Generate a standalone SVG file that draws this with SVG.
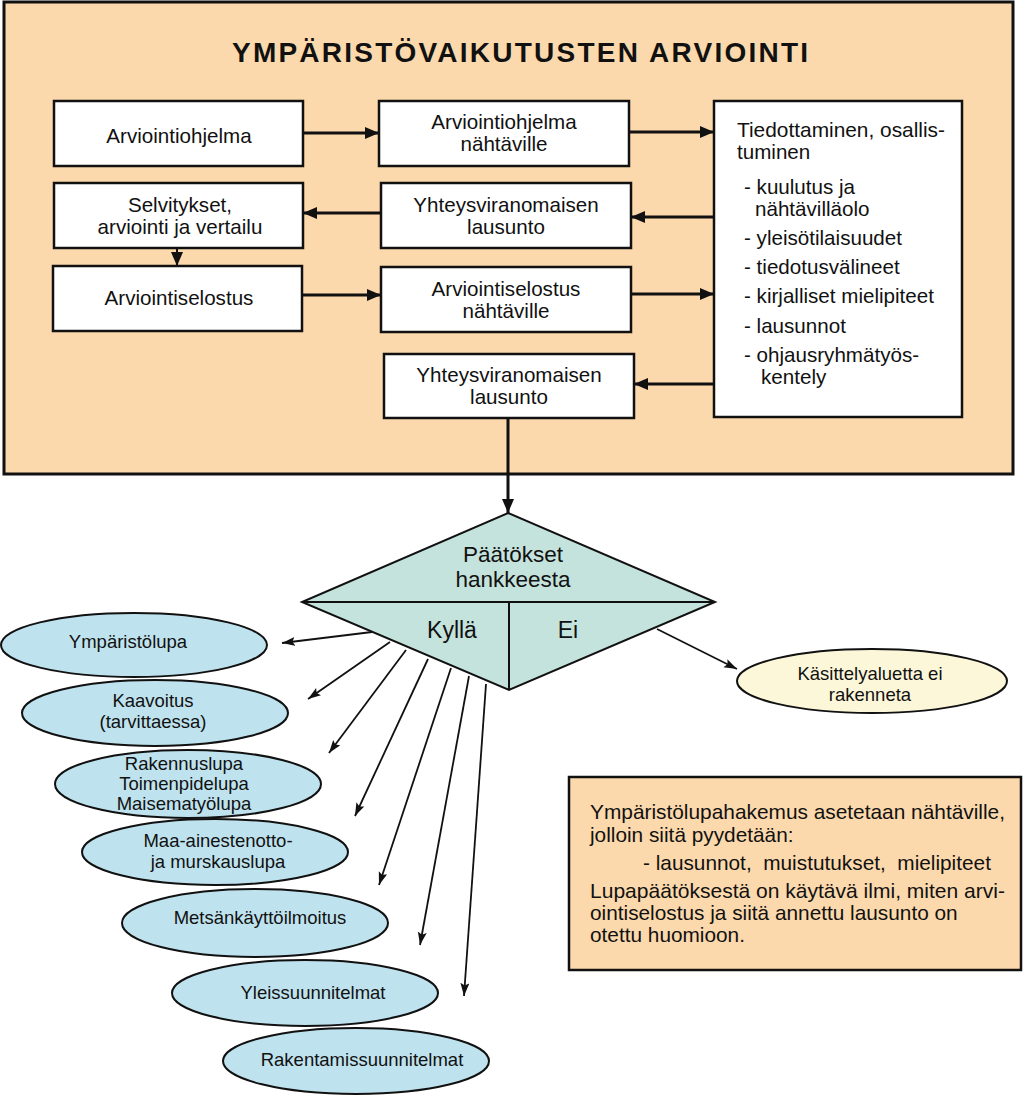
<svg xmlns="http://www.w3.org/2000/svg" width="1023" height="1096" viewBox="0 0 1023 1096">
<style>
text{font-family:"Liberation Sans",Arial,sans-serif;fill:#111}
.box{fill:#fff;stroke:#111;stroke-width:2.5}
.bt{font-size:20.6px;text-anchor:middle}
.rt{font-size:20.6px}
.nt{font-size:20.8px}
.et{font-size:18.5px;text-anchor:middle}
.ell{fill:#bfe3ee;stroke:#111;stroke-width:2}
.main{stroke:#111;stroke-width:3;fill:none;marker-end:url(#big)}
.thin{stroke:#111;stroke-width:1.8;fill:none;marker-end:url(#small)}
</style>
<defs>
<marker id="big" markerUnits="userSpaceOnUse" markerWidth="15" markerHeight="13" refX="14" refY="6" orient="auto" viewBox="0 0 15 13">
<path d="M0,0 L14,6 L0,12 z" fill="#111"/>
</marker>
<marker id="small" markerUnits="userSpaceOnUse" markerWidth="14" markerHeight="10" refX="13" refY="4.5" orient="auto" viewBox="0 0 14 10">
<path d="M0,0 L13,4.5 L0,9 L2.5,4.5 z" fill="#111"/>
</marker>
</defs>
<rect width="1023" height="1096" fill="#fff"/>
<g id="frame">
<rect x="4" y="2" width="1009" height="472" fill="#fcd9ac" stroke="#111" stroke-width="3"/>
<text x="520" y="62" font-size="28" font-weight="bold" text-anchor="middle" textLength="576" lengthAdjust="spacing">YMPÄRISTÖVAIKUTUSTEN ARVIOINTI</text>
</g>
<g id="n1"><rect class="box" x="54" y="101" width="249" height="65"/><text class="bt" x="179" y="143">Arviointiohjelma</text></g>
<g id="n2"><rect class="box" x="54" y="183" width="249" height="65"/><text class="bt" x="180" y="212">Selvitykset,</text><text class="bt" x="180" y="234">arviointi ja vertailu</text></g>
<g id="n3"><rect class="box" x="53" y="266" width="249" height="65"/><text class="bt" x="179" y="305">Arviointiselostus</text></g>
<g id="n4"><rect class="box" x="379" y="101" width="250" height="65"/><text class="bt" x="504" y="129">Arviointiohjelma</text><text class="bt" x="504" y="151">nähtäville</text></g>
<g id="n5"><rect class="box" x="381" y="183" width="250" height="65"/><text class="bt" x="506" y="212">Yhteysviranomaisen</text><text class="bt" x="506" y="234">lausunto</text></g>
<g id="n6"><rect class="box" x="381" y="267" width="250" height="65"/><text class="bt" x="506" y="296">Arviointiselostus</text><text class="bt" x="506" y="318">nähtäville</text></g>
<g id="n7"><rect class="box" x="384" y="354" width="250" height="64"/><text class="bt" x="509" y="382">Yhteysviranomaisen</text><text class="bt" x="509" y="404">lausunto</text></g>
<g id="n8"><rect class="box" x="714" y="101" width="248" height="316"/>
<text class="rt" x="737" y="137" textLength="208" lengthAdjust="spacingAndGlyphs">Tiedottaminen, osallis-</text>
<text class="rt" x="737" y="159">tuminen</text>
<text class="rt" x="744" y="194">- kuulutus ja</text>
<text class="rt" x="755" y="216">nähtävilläolo</text>
<text class="rt" x="744" y="245">- yleisötilaisuudet</text>
<text class="rt" x="744" y="274">- tiedotusvälineet</text>
<text class="rt" x="744" y="303">- kirjalliset mielipiteet</text>
<text class="rt" x="744" y="333">- lausunnot</text>
<text class="rt" x="744" y="362">- ohjausryhmätyös-</text>
<text class="rt" x="761" y="384">kentely</text>
</g>
<g id="decision">
<path d="M508,513 L715,602 L509,690 L302,602 z" fill="#c4e3dc" stroke="#111" stroke-width="2"/>
<line x1="302" y1="602" x2="715" y2="602" stroke="#111" stroke-width="2"/>
<line x1="509" y1="602" x2="509" y2="690" stroke="#111" stroke-width="2"/>
<text x="513" y="562" font-size="22.5" text-anchor="middle">Päätökset</text>
<text x="513" y="587" font-size="22.5" text-anchor="middle">hankkeesta</text>
<text x="452" y="638" font-size="23" text-anchor="middle">Kyllä</text>
<text x="568" y="638" font-size="23" text-anchor="middle">Ei</text>
</g>
<g id="e1"><ellipse class="ell" cx="134" cy="645" rx="133" ry="32"/><text class="et" x="128" y="648">Ympäristölupa</text></g>
<g id="e2"><ellipse class="ell" cx="155" cy="713" rx="133" ry="33"/><text class="et" x="153" y="707">Kaavoitus</text><text class="et" x="153" y="728">(tarvittaessa)</text></g>
<g id="e3"><ellipse class="ell" cx="188" cy="784" rx="133" ry="34"/><text class="et" x="184" y="770">Rakennuslupa</text><text class="et" x="184" y="790">Toimenpidelupa</text><text class="et" x="184" y="810">Maisematyölupa</text></g>
<g id="e4"><ellipse class="ell" cx="215" cy="852" rx="133" ry="33"/><text class="et" x="218" y="847">Maa-ainestenotto-</text><text class="et" x="218" y="868">ja murskauslupa</text></g>
<g id="e5"><ellipse class="ell" cx="255" cy="923" rx="133" ry="34"/><text class="et" x="260" y="924">Metsänkäyttöilmoitus</text></g>
<g id="e6"><ellipse class="ell" cx="305" cy="993" rx="133" ry="33"/><text class="et" x="313" y="999">Yleissuunnitelmat</text></g>
<g id="e7"><ellipse class="ell" cx="356" cy="1061" rx="133" ry="33"/><text class="et" x="362" y="1066">Rakentamissuunnitelmat</text></g>
<g id="e8"><ellipse cx="872" cy="681" rx="135" ry="32" fill="#fdf7da" stroke="#111" stroke-width="2"/><text class="et" x="870" y="680">Käsittelyaluetta ei</text><text class="et" x="870" y="701">rakenneta</text></g>
<g id="note">
<rect x="569" y="777" width="452" height="193" fill="#fcd9ac" stroke="#111" stroke-width="2.5"/>
<text class="nt" x="590" y="819" textLength="415" lengthAdjust="spacingAndGlyphs">Ympäristölupahakemus asetetaan nähtäville,</text>
<text class="nt" x="590" y="842">jolloin siitä pyydetään:</text>
<text class="nt" x="643" y="870" xml:space="preserve">- lausunnot,  muistutukset,  mielipiteet</text>
<text class="nt" x="590" y="898" textLength="415" lengthAdjust="spacingAndGlyphs">Lupapäätöksestä on käytävä ilmi, miten arvi-</text>
<text class="nt" x="590" y="920">ointiselostus ja siitä annettu lausunto on</text>
<text class="nt" x="590" y="942">otettu huomioon.</text>
</g>
<g id="connectors">
<line class="main" x1="303" y1="133" x2="379" y2="133"/>
<line class="main" x1="629" y1="132" x2="714" y2="132"/>
<line class="main" x1="714" y1="217" x2="631" y2="217"/>
<line class="main" x1="381" y1="213" x2="303" y2="213"/>
<line class="main" x1="177" y1="248" x2="177" y2="266" style="stroke-width:2"/>
<line class="main" x1="302" y1="295" x2="381" y2="295"/>
<line class="main" x1="631" y1="294" x2="714" y2="294"/>
<line class="main" x1="714" y1="384" x2="634" y2="384"/>
<line class="main" x1="508" y1="418" x2="508" y2="513"/>
<line class="thin" x1="372" y1="632" x2="282" y2="643"/>
<line class="thin" x1="390" y1="642" x2="308" y2="699"/>
<line class="thin" x1="406" y1="650" x2="329" y2="753"/>
<line class="thin" x1="428" y1="659" x2="355" y2="816"/>
<line class="thin" x1="451" y1="668" x2="379" y2="885"/>
<line class="thin" x1="469" y1="676" x2="420" y2="945"/>
<line class="thin" x1="486" y1="684" x2="464" y2="996"/>
<line class="thin" x1="657" y1="629" x2="737" y2="669"/>
</g>
</svg>
